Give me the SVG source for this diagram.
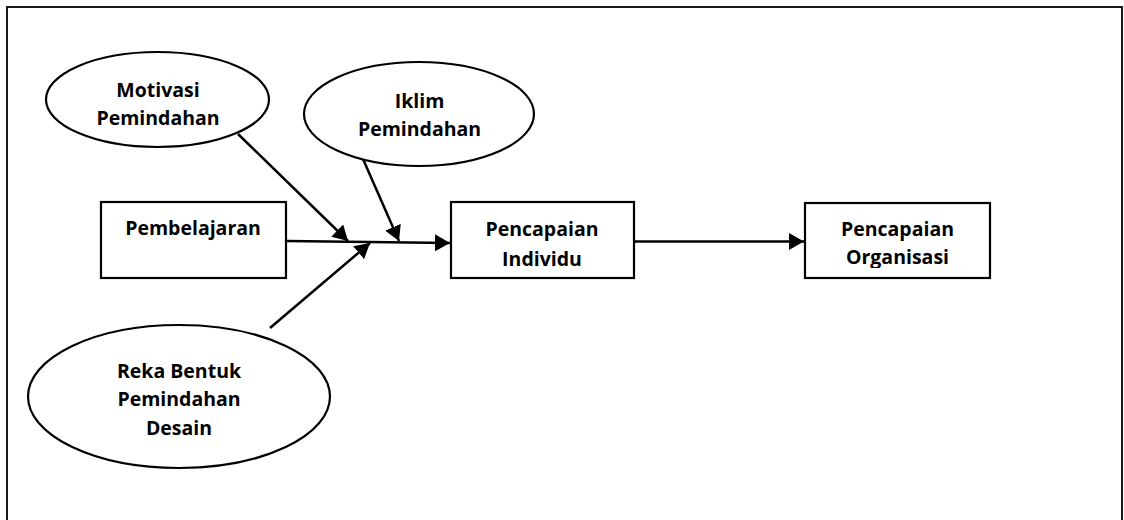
<svg xmlns="http://www.w3.org/2000/svg" width="1124" height="520" viewBox="0 0 1124 520">
<style>
.shape{fill:#fff;stroke:#000;stroke-width:2.2}
.lbl{font-family:"Open Sans","Liberation Sans",sans-serif;font-weight:bold;font-size:19.5px;fill:#000;text-anchor:middle}
.conn{stroke:#000;stroke-width:2.5;fill:none}
</style>
<defs>
<marker id="ah" markerUnits="userSpaceOnUse" markerWidth="16" markerHeight="17" refX="15" refY="8.5" orient="auto">
<path d="M0,0 L15,8.5 L0,17 z" fill="#000"/>
</marker>
<clipPath id="orgclip"><rect x="805" y="203" width="186" height="65"/></clipPath>
</defs>
<rect width="1124" height="520" fill="#fff"/>
<rect x="7" y="7" width="1115" height="530" fill="none" stroke="#000" stroke-width="1.8"/>
<g id="connectors">
<line class="conn" x1="287" y1="241" x2="450" y2="243" marker-end="url(#ah)"/>
<line class="conn" x1="238" y1="134" x2="348" y2="241" marker-end="url(#ah)"/>
<line class="conn" x1="363" y1="159" x2="399" y2="241" marker-end="url(#ah)"/>
<line class="conn" x1="270" y1="328" x2="370" y2="243" marker-end="url(#ah)"/>
<line class="conn" x1="635" y1="241.5" x2="804" y2="241.5" marker-end="url(#ah)"/>
</g>
<g id="motivasi">
<ellipse class="shape" cx="157.5" cy="99.5" rx="111.5" ry="47.5"/>
<text class="lbl" x="158" y="97">Motivasi</text>
<text class="lbl" x="158" y="125">Pemindahan</text>
</g>
<g id="iklim">
<ellipse class="shape" cx="419" cy="114" rx="115" ry="52"/>
<text class="lbl" x="419.5" y="108">Iklim</text>
<text class="lbl" x="419.5" y="136">Pemindahan</text>
</g>
<g id="pembelajaran">
<rect class="shape" x="101" y="202" width="185" height="76"/>
<text class="lbl" x="193" y="235">Pembelajaran</text>
</g>
<g id="individu">
<rect class="shape" x="451" y="202" width="183" height="76"/>
<text class="lbl" x="542" y="236">Pencapaian</text>
<text class="lbl" x="542" y="266">Individu</text>
</g>
<g id="organisasi">
<rect class="shape" x="805" y="203" width="185" height="75"/>
<g clip-path="url(#orgclip)">
<text class="lbl" x="897.5" y="236">Pencapaian</text>
<text class="lbl" x="897.5" y="264">Organisasi</text>
</g>
</g>
<g id="reka">
<ellipse class="shape" cx="179" cy="396.5" rx="151" ry="71.5"/>
<text class="lbl" x="179" y="378">Reka Bentuk</text>
<text class="lbl" x="179" y="406">Pemindahan</text>
<text class="lbl" x="179" y="435">Desain</text>
</g>
</svg>
